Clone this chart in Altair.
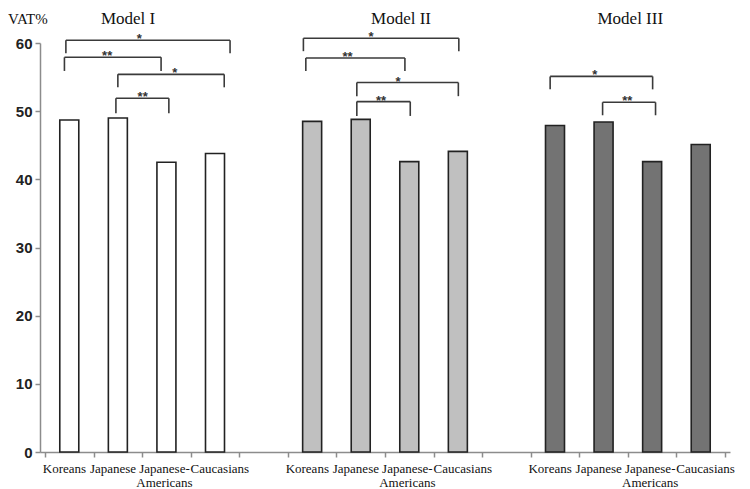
import altair as alt
import pandas as pd

# ---- data ----
models = ["Model I", "Model II", "Model III"]
groups = ["Koreans", "Japanese", "Japanese-Americans", "Caucasians"]
vat_model1 = [48.7, 49.0, 42.5, 43.8]
vat_model2 = [48.5, 48.8, 42.6, 44.1]
vat_model3 = [47.9, 48.4, 42.6, 45.1]
y_ticks = [0, 10, 20, 30, 40, 50, 60]

# significance brackets: model, left end, right end (category-slot units within the model),
# bracket height, leg end (VAT%), label, star position (slot units)
br_model = ["Model I"] * 4 + ["Model II"] * 4 + ["Model III"] * 2
br_left = [0.43, 0.40, 1.50, 1.46, 0.32, 0.37, 1.42, 1.42, 0.40, 1.48]
br_right = [3.81, 2.39, 3.69, 2.55, 3.52, 2.41, 3.51, 2.52, 2.51, 2.57]
br_top = [60.4, 57.9, 55.4, 51.9, 60.7, 57.8, 54.2, 51.4, 55.1, 51.3]
br_leg = [58.5, 55.9, 53.5, 49.7, 58.8, 55.9, 52.2, 49.3, 53.2, 49.4]
br_label = ["*", "**", "*", "**", "*", "**", "*", "**", "*", "**"]
br_star = [1.94, 1.28, 2.67, 2.01, 1.71, 1.23, 2.27, 1.92, 1.32, 1.99]

title_pos = [1.71, 2.33, 2.05]  # title centre, slot units within each model

# ---- build tables ----
model_base = {m: i * 5 for i, m in enumerate(models)}
fills = ["#ffffff", "#c0c0c0", "#737373"]
label_shift = {"Koreans": -0.1, "Japanese": -0.1, "Japanese-Americans": -0.04, "Caucasians": 0.1}

rows = []
for m, vals in zip(models, [vat_model1, vat_model2, vat_model3]):
    for i, (g, v) in enumerate(zip(groups, vals)):
        xc = model_base[m] + i + 0.5
        rows.append({"model": m, "group": g, "xc": xc, "vat": v,
                     "xl": xc + label_shift[g],
                     "label": g.replace("-", "-\n")})
bars = pd.DataFrame(rows)

segs = []
stars = []
for m, l, r, t, lg, lab, s in zip(br_model, br_left, br_right, br_top, br_leg, br_label, br_star):
    b = model_base[m]
    segs.append({"xc": b + l, "x2": b + r, "vat": t, "y2": t})
    segs.append({"xc": b + l, "x2": b + l, "vat": t, "y2": lg})
    segs.append({"xc": b + r, "x2": b + r, "vat": t, "y2": lg})
    stars.append({"xc": b + s, "vat": t, "label": lab})
segs = pd.DataFrame(segs)
stars = pd.DataFrame(stars)

titles = pd.DataFrame({"model": models,
                       "xc": [model_base[m] + p for m, p in zip(models, title_pos)]})

W, H = 690, 409
xscale = alt.Scale(domain=[0, 14], nice=False, zero=False)
yscale = alt.Scale(domain=[0, 60], nice=False, zero=True)
axis_col = "#8c8c8c"

x_axis = alt.Axis(values=list(range(15)), labels=False, ticks=True, tickSize=5,
                  grid=False, domainColor=axis_col, tickColor=axis_col,
                  domainWidth=1.5, tickWidth=1.5, title=None)
y_axis = alt.Axis(values=y_ticks, labelFont="Liberation Sans", labelFontWeight="bold",
                  labelFontSize=15, labelColor="#222222", labelPadding=3,
                  tickSize=5, grid=False, domainColor=axis_col, tickColor=axis_col,
                  domainWidth=1.5, tickWidth=1.5, title=None)

X = alt.X("xc:Q", scale=xscale, axis=x_axis, title=None)
Y = alt.Y("vat:Q", scale=yscale, axis=y_axis, title=None)

bar_layer = alt.Chart(bars).mark_bar(size=19, stroke="#222222", strokeWidth=1.6).encode(
    x=X, y=Y,
    color=alt.Color("model:N", scale=alt.Scale(domain=models, range=fills), legend=None),
)

cat_labels = alt.Chart(bars).mark_text(
    font="Liberation Serif", fontSize=13, color="#111111", lineBreak="\n", lineHeight=14,
    baseline="alphabetic", align="center",
).encode(
    x=alt.X("xl:Q", scale=xscale, axis=x_axis, title=None),
    y=alt.value(H + 21),
    text="label:N",
)

bracket_layer = alt.Chart(segs).mark_rule(color="#3a3a3a", strokeWidth=1.6).encode(
    x=X, x2="x2:Q", y=Y, y2="y2:Q",
)

star_layer = alt.Chart(stars).mark_text(
    font="Liberation Sans", fontSize=13, fontWeight="bold", color="#333333",
    baseline="alphabetic", align="center", dy=3,
).encode(x=X, y=Y, text="label:N")

title_layer = alt.Chart(titles).mark_text(
    font="Liberation Serif", fontSize=17, color="#111111", baseline="alphabetic", align="center",
).encode(
    x=X,
    y=alt.value(-19),
    text="model:N",
)

vat_label = alt.Chart(pd.DataFrame({"t": ["VAT%"]})).mark_text(
    font="Liberation Serif", fontSize=15, color="#111111", baseline="alphabetic", align="left",
).encode(
    x=alt.value(-32),
    y=alt.value(-19),
    text="t:N",
)

chart = alt.layer(bar_layer, cat_labels, bracket_layer, star_layer, title_layer, vat_label).properties(
    width=W, height=H,
    autosize=alt.AutoSizeParams(type="none"),
    padding={"left": 32, "top": 35, "right": 12, "bottom": 38},
    background="white",
).configure_view(stroke=None)

chart.save("out.html", embed_options={"renderer": "svg", "actions": False})
